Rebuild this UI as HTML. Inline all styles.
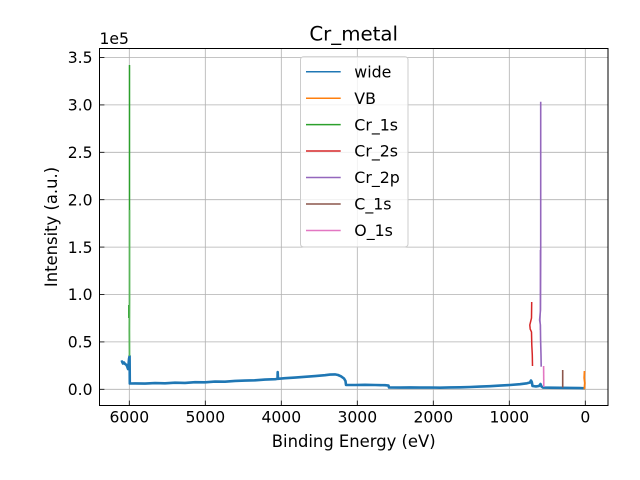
<!DOCTYPE html>
<html>
<head>
<meta charset="utf-8">
<style>
html,body{margin:0;padding:0;background:#fff;}
svg{display:block;}
text{font-family:"DejaVu Sans","Liberation Sans",sans-serif;fill:#000;}
</style>
</head>
<body>
<svg width="640" height="480" viewBox="0 0 640 480" xmlns="http://www.w3.org/2000/svg">
<rect x="0" y="0" width="640" height="480" fill="#fff"/>
<!-- grid -->
<g stroke="#b0b0b0" stroke-width="0.8" fill="none">
<line x1="129.3" y1="48.5" x2="129.3" y2="405.5"/>
<line x1="205.3" y1="48.5" x2="205.3" y2="405.5"/>
<line x1="281.3" y1="48.5" x2="281.3" y2="405.5"/>
<line x1="357.3" y1="48.5" x2="357.3" y2="405.5"/>
<line x1="433.3" y1="48.5" x2="433.3" y2="405.5"/>
<line x1="509.3" y1="48.5" x2="509.3" y2="405.5"/>
<line x1="585.3" y1="48.5" x2="585.3" y2="405.5"/>
<line x1="99.5" y1="389.3" x2="608" y2="389.3"/>
<line x1="99.5" y1="341.9" x2="608" y2="341.9"/>
<line x1="99.5" y1="294.5" x2="608" y2="294.5"/>
<line x1="99.5" y1="247.1" x2="608" y2="247.1"/>
<line x1="99.5" y1="199.7" x2="608" y2="199.7"/>
<line x1="99.5" y1="152.3" x2="608" y2="152.3"/>
<line x1="99.5" y1="104.9" x2="608" y2="104.9"/>
<line x1="99.5" y1="57.5" x2="608" y2="57.5"/>
</g>
<!-- wide (blue) -->
<path d="M121,362 L122,361.5 L123,363.5 L124,362.5 L125,364 L126,364.5 L127,366 L128,369 L128.5,365 L129,359 L129.6,356 L129.8,383.5 L135,383.4 L145,383.6 L155,383.1 L165,383.3 L175,382.7 L185,382.9 L195,382.2 L205,382.3 L215,381.6 L225,381.7 L235,380.9 L245,380.6 L255,380.3 L265,379.6 L275,379.2 L277.5,378.8 L277.7,372 L278,378.8 L285,378.2 L295,377.6 L305,376.8 L315,376.1 L325,375.2 L330,374.6 L335,374.4 L338,375 L341,376.3 L344,378.5 L345.5,381 L346,385 L355,385 L365,384.8 L375,385 L385,385.2 L388.5,385.6 L389,387.5 L400,387.6 L410,387.4 L420,387.6 L430,387.5 L440,387.7 L450,387.4 L460,387.3 L470,387 L480,386.6 L490,386.2 L500,385.6 L510,385 L520,384.2 L527,383.3 L530,382.5 L531,380.5 L531.8,382 L532.5,386 L536,386.4 L539,386 L540.5,384 L541.5,386.5 L543,387.6 L550,387.7 L560,387.8 L570,387.9 L580,388.1 L585,388.3" fill="none" stroke="#1f77b4" stroke-width="2.6" stroke-linejoin="round"/>
<!-- VB (orange) -->
<path d="M584.5,371 L584.2,378 L584.8,383 L584.3,389.3" fill="none" stroke="#ff7f0e" stroke-width="1.8"/>
<!-- Cr_1s (green) -->
<path d="M129.5,65 L129.5,300 L129.3,330 L129.5,356" fill="none" stroke="#2ca02c" stroke-width="1.5"/>
<path d="M128.8,305 L128.8,318" fill="none" stroke="#2ca02c" stroke-width="1.5"/>
<path d="M129.6,210 L129.6,356" fill="none" stroke="#6cbf6c" stroke-width="1.6" opacity="0.7"/>
<!-- Cr_2s (red) -->
<path d="M531.7,302 L531.5,318 L529.8,325 L530.2,329 L531.5,332 L531.8,345 L532.3,355 L532.5,366" fill="none" stroke="#d62728" stroke-width="1.5"/>
<!-- Cr_2p (purple) -->
<path d="M540.7,101.7 L540.7,250 L540.5,310 L539.6,320 L540.4,325 L540.6,340 L541,355 L541.2,366.7" fill="none" stroke="#9467bd" stroke-width="1.6"/>
<path d="M540.2,250 L540.2,330" fill="none" stroke="#9467bd" stroke-width="1.4" opacity="0.6"/>
<!-- C_1s (brown) -->
<path d="M562.7,370 L562.7,387.5" fill="none" stroke="#8c564b" stroke-width="1.6"/>
<!-- O_1s (pink) -->
<path d="M543.6,366 L543.8,387" fill="none" stroke="#e377c2" stroke-width="1.6"/>
<!-- spines -->
<rect x="99.5" y="48.5" width="508.5" height="357" fill="none" stroke="#000" stroke-width="1"/>
<!-- ticks -->
<g stroke="#000" stroke-width="0.8">
<line x1="129.3" y1="405.5" x2="129.3" y2="400.6"/>
<line x1="205.3" y1="405.5" x2="205.3" y2="400.6"/>
<line x1="281.3" y1="405.5" x2="281.3" y2="400.6"/>
<line x1="357.3" y1="405.5" x2="357.3" y2="400.6"/>
<line x1="433.3" y1="405.5" x2="433.3" y2="400.6"/>
<line x1="509.3" y1="405.5" x2="509.3" y2="400.6"/>
<line x1="585.3" y1="405.5" x2="585.3" y2="400.6"/>
<line x1="99.5" y1="389.3" x2="104.4" y2="389.3"/>
<line x1="99.5" y1="341.9" x2="104.4" y2="341.9"/>
<line x1="99.5" y1="294.5" x2="104.4" y2="294.5"/>
<line x1="99.5" y1="247.1" x2="104.4" y2="247.1"/>
<line x1="99.5" y1="199.7" x2="104.4" y2="199.7"/>
<line x1="99.5" y1="152.3" x2="104.4" y2="152.3"/>
<line x1="99.5" y1="104.9" x2="104.4" y2="104.9"/>
<line x1="99.5" y1="57.5" x2="104.4" y2="57.5"/>
</g>
<!-- x tick labels -->
<g font-size="15.6" text-anchor="middle">
<text x="129.3" y="422.5">6000</text>
<text x="205.3" y="422.5">5000</text>
<text x="281.3" y="422.5">4000</text>
<text x="357.3" y="422.5">3000</text>
<text x="433.3" y="422.5">2000</text>
<text x="509.3" y="422.5">1000</text>
<text x="585.3" y="422.5">0</text>
</g>
<!-- y tick labels -->
<g font-size="15.6" text-anchor="end">
<text x="92.5" y="395">0.0</text>
<text x="92.5" y="347.6">0.5</text>
<text x="92.5" y="300.2">1.0</text>
<text x="92.5" y="252.8">1.5</text>
<text x="92.5" y="205.4">2.0</text>
<text x="92.5" y="158">2.5</text>
<text x="92.5" y="110.6">3.0</text>
<text x="92.5" y="63.2">3.5</text>
</g>
<text x="99.5" y="44" font-size="15.6">1e5</text>
<!-- axis labels -->
<text x="353.7" y="447" font-size="16.4" text-anchor="middle">Binding Energy (eV)</text>
<text x="0" y="0" font-size="16.4" text-anchor="middle" transform="translate(57,227) rotate(-90)">Intensity (a.u.)</text>
<!-- title -->
<text x="353.7" y="40.5" font-size="19.8" text-anchor="middle">Cr_metal</text>
<!-- legend -->
<rect x="300.5" y="56.7" width="107.5" height="190.3" rx="3" ry="3" fill="#fff" fill-opacity="0.8" stroke="#cccccc" stroke-width="1"/>
<g stroke-width="1.5">
<line x1="306" y1="71.7" x2="340.7" y2="71.7" stroke="#1f77b4"/>
<line x1="306" y1="98.2" x2="340.7" y2="98.2" stroke="#ff7f0e"/>
<line x1="306" y1="124.6" x2="340.7" y2="124.6" stroke="#2ca02c"/>
<line x1="306" y1="151" x2="340.7" y2="151" stroke="#d62728"/>
<line x1="306" y1="177.5" x2="340.7" y2="177.5" stroke="#9467bd"/>
<line x1="306" y1="204" x2="340.7" y2="204" stroke="#8c564b"/>
<line x1="306" y1="230.5" x2="340.7" y2="230.5" stroke="#e377c2"/>
</g>
<g font-size="15.8">
<text x="354.3" y="77.4">wide</text>
<text x="354.3" y="103.9">VB</text>
<text x="354.3" y="130.3">Cr_1s</text>
<text x="354.3" y="156.7">Cr_2s</text>
<text x="354.3" y="183.2">Cr_2p</text>
<text x="354.3" y="209.7">C_1s</text>
<text x="354.3" y="236.2">O_1s</text>
</g>
</svg>
</body>
</html>
